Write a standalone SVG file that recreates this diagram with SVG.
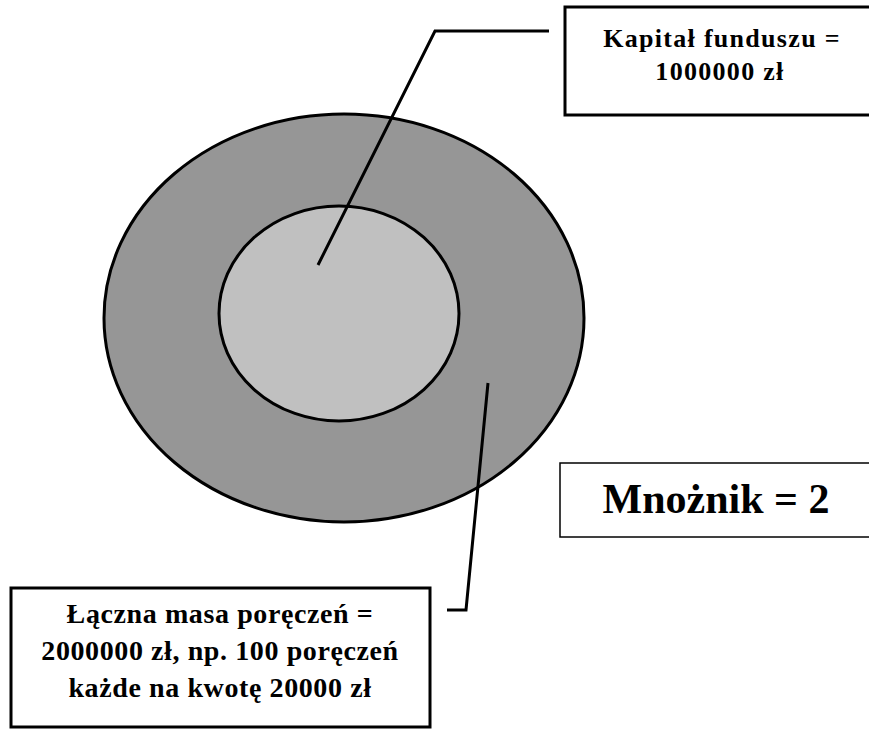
<svg xmlns="http://www.w3.org/2000/svg" width="869" height="731" viewBox="0 0 869 731">
<style>
.t{font-family:"Liberation Serif","Times New Roman",serif;font-weight:bold;fill:#000;text-anchor:middle}
.box{fill:#fff;stroke:#000;stroke-width:3}
.conn{fill:none;stroke:#000;stroke-width:3}
</style>
<rect width="869" height="731" fill="#fff"/>
<g id="outer"><ellipse cx="344" cy="318" rx="240" ry="204" fill="#969696" stroke="#000" stroke-width="3"/></g>
<g id="inner"><ellipse cx="339" cy="313.5" rx="120" ry="107.5" fill="#c0c0c0" stroke="#000" stroke-width="3"/></g>
<g id="connectors">
<polyline class="conn" points="318,265 435,31 549,31"/>
<polyline class="conn" points="488,383 466,610 447,610"/>
</g>
<g id="kapital">
<rect class="box" x="565" y="7" width="310" height="108"/>
<text class="t" x="722" y="47" font-size="26" letter-spacing="1.3">Kapitał funduszu =</text>
<text class="t" x="720" y="80" font-size="26" letter-spacing="1.3">1000000 zł</text>
</g>
<g id="mnoznik">
<rect x="560" y="463" width="315" height="74" fill="#fff" stroke="#000" stroke-width="1.5"/>
<text class="t" x="716" y="513" font-size="42">Mnożnik = 2</text>
</g>
<g id="laczna">
<rect class="box" x="11" y="588" width="419" height="139"/>
<text class="t" x="220" y="623" font-size="28" letter-spacing="0.6">Łączna masa poręczeń =</text>
<text class="t" x="220" y="660" font-size="28" letter-spacing="0.6">2000000 zł, np. 100 poręczeń</text>
<text class="t" x="220" y="697" font-size="28" letter-spacing="0.6">każde na kwotę 20000 zł</text>
</g>
</svg>
